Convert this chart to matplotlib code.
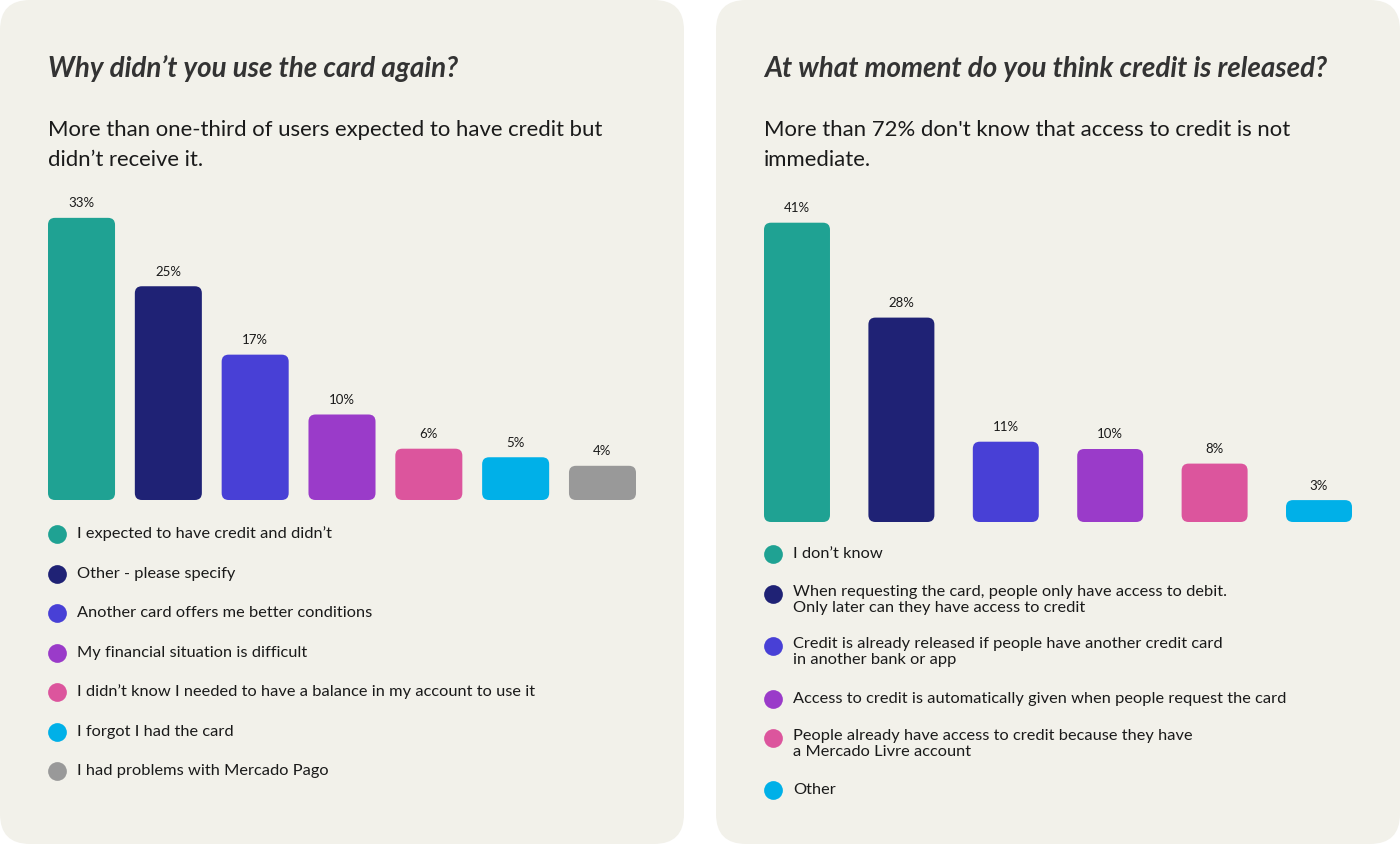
import numpy as np
import matplotlib
matplotlib.use("Agg")
from matplotlib import pyplot as plt
from matplotlib.patches import FancyBboxPatch

W, H = 1400, 852

# data
left_title = "Why didn’t you use the card again?"
left_sub = "More than one-third of users expected to have credit but\ndidn’t receive it."
left_labels = ["I expected to have credit and didn’t",
               "Other - please specify",
               "Another card offers me better conditions",
               "My financial situation is difficult",
               "I didn’t know I needed to have a balance in my account to use it",
               "I forgot I had the card",
               "I had problems with Mercado Pago"]
left_values = [33, 25, 17, 10, 6, 5, 4]

right_title = "At what moment do you think credit is released?"
right_sub = "More than 72% don't know that access to credit is not\nimmediate."
right_labels = ["I don’t know",
                "When requesting the card, people only have access to debit.\nOnly later can they have access to credit",
                "Credit is already released if people have another credit card\nin another bank or app",
                "Access to credit is automatically given when people request the card",
                "People already have access to credit because they have\na Mercado Livre account",
                "Other"]
right_values = [41, 28, 11, 10, 8, 3]

colors = ["#1fa293", "#1f2275", "#4840d6", "#9a3bc9", "#dc559d", "#00b0e8", "#999999"]
panel_bg = "#f2f1ea"
txt = "#1a1a1a"

fig = plt.figure(figsize=(W / 100, H / 100), dpi=100)
fig.patch.set_facecolor("white")

# overlay axes in pixel coords
bg = fig.add_axes([0, 0, 1, 1], zorder=0)
bg.set_xlim(0, W)
bg.set_ylim(H, 0)
bg.axis("off")
for x0 in (0, 716):
    bg.add_patch(FancyBboxPatch((x0, 0), 684, 844,
                                boxstyle="round,pad=0,rounding_size=30",
                                fc=panel_bg, ec="none"))


def px_axes(x0, y0, x1, y1):
    return fig.add_axes([x0 / W, 1 - y1 / H, (x1 - x0) / W, (y1 - y0) / H], zorder=1)


def rounded_bars(ax, values, width, r_px, ax_w_px, ax_h_px):
    bars = ax.bar(np.arange(len(values)), values, width=width, color=colors[:len(values)])
    xlo, xhi = ax.get_xlim()
    ylo, yhi = ax.get_ylim()
    xu = (xhi - xlo) / ax_w_px
    yu = (yhi - ylo) / ax_h_px
    for b in bars:
        x, y = b.get_x(), b.get_y()
        w, h = b.get_width(), b.get_height()
        fc = b.get_facecolor()
        b.remove()
        ax.add_patch(FancyBboxPatch((x, y), w, h,
                                    boxstyle="round,pad=0,rounding_size=%f" % (r_px * xu),
                                    mutation_aspect=yu / xu, fc=fc, ec="none"))
        ax.annotate("%d%%" % round(h), (x + w / 2, h), xytext=(0, 10.5), textcoords="offset points",
                    ha="center", va="center", fontsize=9.5, color=txt, family="Lato")


# left chart
axl = px_axes(48, 190, 636, 500)
axl.set_xlim(-0.386, 6.386)
axl.set_ylim(0, 310 / 8.55)
axl.axis("off")
rounded_bars(axl, left_values, 0.772, 7, 588, 310)

# right chart
axr = px_axes(764, 190, 1352, 522)
axr.set_xlim(-0.316, 5.316)
axr.set_ylim(0, 332 / 7.3)
axr.axis("off")
rounded_bars(axr, right_values, 0.632, 7, 588, 332)

# titles
bg.text(48, 77, left_title, fontsize=20, fontweight="bold", fontstyle="italic",
        color="#333333", family="Lato", va="baseline")
bg.text(764, 77, right_title, fontsize=20, fontweight="bold", fontstyle="italic",
        color="#333333", family="Lato", va="baseline")
# baseline of multi-line text is the last line
bg.text(48, 166, left_sub, fontsize=15.9, color=txt, family="Lato", va="baseline",
        linespacing=1.62)
bg.text(764, 166, right_sub, fontsize=15.9, color=txt, family="Lato", va="baseline",
        linespacing=1.62)

# legends
left_rows = [534, 574, 613, 653, 692, 732, 771]
for i, (lab, yy) in enumerate(zip(left_labels, left_rows)):
    bg.scatter([57], [yy], s=13.5 ** 2, color=colors[i], lw=0)
    bg.text(77, yy, lab, fontsize=11.8, color=txt, family="Lato", va="center")

right_rows = [554, 600, 652, 699, 744, 790]
for i, (lab, yy) in enumerate(zip(right_labels, right_rows)):
    bg.scatter([773], [yy if "\n" not in lab else yy - 6], s=13.5 ** 2, color=colors[i], lw=0)
    bg.text(793, yy, lab, fontsize=11.8, color=txt, family="Lato", va="center", linespacing=1.2)

fig.savefig("out.png", dpi=100, facecolor="white")
